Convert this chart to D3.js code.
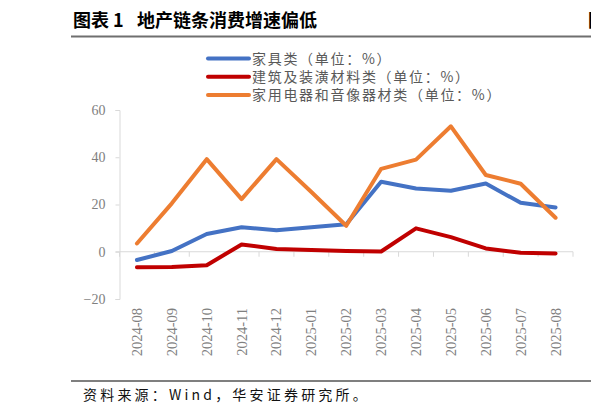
<!DOCTYPE html>
<html>
<head>
<meta charset="utf-8">
<script src="https://cdn.jsdelivr.net/npm/d3@7/dist/d3.min.js"></script>
<style>
  html, body { margin: 0; padding: 0; background: #fff; }
  svg { display: block; }
  .cjk { font-family: "Noto Sans CJK SC", sans-serif; }
  .num { font-family: "Liberation Serif", "DejaVu Serif", serif; }
</style>
</head>
<body>
<svg id="chart" width="591" height="416"></svg>
<script>
var months = ['2024-08', '2024-09', '2024-10', '2024-11', '2024-12', '2025-01',
  '2025-02', '2025-03', '2025-04', '2025-05', '2025-06', '2025-07', '2025-08'];

var furniture = [-3.5, 0.3, 7.5, 10.4, 9.1, 10.4, 11.6, 29.6, 26.8, 25.8, 28.9, 20.7, 18.7];
var buildingDeco = [-6.6, -6.5, -5.7, 3.1, 1.2, 0.7, 0.3, 0.1, 9.9, 6.2, 1.4, -0.4, -0.7];
var appliances = [3.5, 20.5, 39.2, 22.3, 39.2, 25.3, 11.0, 35.1, 39.0, 53.1, 32.5, 28.8, 14.4];

var seriesNames = ['家具类（单位：%）', '建筑及装潢材料类（单位：%）', '家用电器和音像器材类（单位：%）'];
var seriesColors = ['#4472C4', '#C00000', '#ED7D31'];
var yTicks = [-20, 0, 20, 40, 60];

var series = [furniture, buildingDeco, appliances].map(function (values, i) {
  return { name: seriesNames[i], color: seriesColors[i], values: values };
});

var svg = d3.select('#chart');
var x = d3.scaleBand().domain(months).range([119.5, 573]).padding(0);
var y = d3.scaleLinear().domain([-20, 60]).range([299, 110]);
var axisColor = '#d9d9d9';
var labelColor = '#808080';

// Title block
svg.append('text').attr('class', 'cjk').attr('x', 73).attr('y', 27)
  .attr('font-size', 18).attr('font-weight', 'bold').attr('fill', '#000')
  .text('图表 1');
svg.append('text').attr('class', 'cjk').attr('x', 137).attr('y', 27)
  .attr('font-size', 18).attr('font-weight', 'bold').attr('fill', '#000')
  .text('地产链条消费增速偏低');
// next figure's title, cut off at the page edge as in the source page
svg.append('text').attr('class', 'cjk').attr('x', 588).attr('y', 27)
  .attr('font-size', 18).attr('font-weight', 'bold').attr('fill', '#000')
  .text('图表 2');
svg.append('line').attr('x1', 71).attr('x2', 591).attr('y1', 36.5).attr('y2', 36.5)
  .attr('stroke', '#6f6f6f').attr('stroke-width', 2);

// Y axis
var yAxis = svg.append('g').attr('transform', 'translate(' + x.range()[0] + ',0)')
  .call(d3.axisLeft(y).tickValues(yTicks).tickSize(4).tickPadding(10));
yAxis.select('.domain').attr('stroke', axisColor);
yAxis.selectAll('.tick line').attr('stroke', axisColor);
yAxis.selectAll('.tick text').attr('class', 'num').attr('font-size', 14)
  .attr('fill', labelColor);

// X axis on the zero line, ticks between categories
var boundaries = d3.range(months.length + 1).map(function (k) {
  return x.range()[0] + k * x.step();
});
var xAxis = svg.append('g');
xAxis.append('line')
  .attr('x1', x.range()[0] - 4).attr('x2', x.range()[1])
  .attr('y1', y(0)).attr('y2', y(0))
  .attr('stroke', axisColor).attr('stroke-width', 1);
xAxis.selectAll('.xtick').data(boundaries).enter().append('line')
  .attr('class', 'xtick')
  .attr('x1', function (d) { return d; }).attr('x2', function (d) { return d; })
  .attr('y1', y(0)).attr('y2', y(0) + 5)
  .attr('stroke', axisColor);

// Month labels sit below the plot, rotated
svg.append('g').selectAll('text').data(months).enter().append('text')
  .attr('class', 'num')
  .attr('font-size', 14.5)
  .attr('fill', labelColor)
  .attr('text-anchor', 'end')
  .attr('transform', function (d) {
    return 'translate(' + (x(d) + x.bandwidth() / 2 + 5) + ',308) rotate(-90)';
  })
  .text(function (d) { return d; });

// Lines
var line = d3.line()
  .x(function (d, i) { return x(months[i]) + x.bandwidth() / 2; })
  .y(function (d) { return y(d); });

svg.append('g').selectAll('path').data(series).enter().append('path')
  .attr('d', function (s) { return line(s.values); })
  .attr('fill', 'none')
  .attr('stroke', function (s) { return s.color; })
  .attr('stroke-width', 4)
  .attr('stroke-linejoin', 'round')
  .attr('stroke-linecap', 'round');

// Legend
var legend = svg.append('g').selectAll('g').data(series).enter().append('g')
  .attr('transform', function (s, i) { return 'translate(207,' + (58.5 + i * 18.3) + ')'; });
legend.append('line')
  .attr('x1', 1).attr('x2', 42).attr('y1', 0).attr('y2', 0)
  .attr('stroke', function (s) { return s.color; })
  .attr('stroke-width', 4)
  .attr('stroke-linecap', 'round');
legend.append('text').attr('class', 'cjk')
  .attr('x', 45).attr('y', 5)
  .attr('font-size', 14)
  .attr('letter-spacing', 1.7)
  .attr('fill', '#595959')
  .text(function (s) { return s.name; });

// Source note
svg.append('line').attr('x1', 71).attr('x2', 591).attr('y1', 381).attr('y2', 381)
  .attr('stroke', '#000').attr('stroke-width', 1.2);
svg.append('text').attr('class', 'cjk').attr('x', 83).attr('y', 400)
  .attr('font-size', 14)
  .attr('letter-spacing', 3.2)
  .attr('fill', '#111')
  .text('资料来源：Wind，华安证券研究所。');
</script>
</body>
</html>
